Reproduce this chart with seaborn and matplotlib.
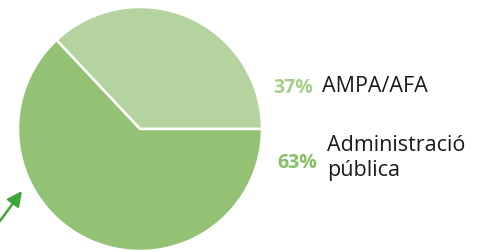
import matplotlib
matplotlib.use("Agg")
import matplotlib.pyplot as plt
import seaborn as sns

# Data
categories = ["AMPA/AFA", "Administració\npública"]
shares = [37, 63]
pct_labels = ["37%", "63%"]
slice_colors = ["#b5d39f", "#93c275"]
pct_colors = ["#a6cf8a", "#86c066"]

sns.set_theme(style="white")
plt.rcParams['font.family'] = ['Open Sans', 'DejaVu Sans']

W, H = 479, 253
fig = plt.figure(figsize=(W / 100, H / 100), dpi=100)
ax = fig.add_axes([0, 0, 1, 1])

# Pie in pixel-like coordinates
cx, cy, r = 140, H - 130, 122
wedges, _ = ax.pie(shares, colors=slice_colors, startangle=0, counterclock=True,
                   center=(cx, cy), radius=r,
                   wedgeprops=dict(edgecolor="white", linewidth=1.8))
ax.set_xlim(0, W)
ax.set_ylim(0, H)
ax.set_aspect("equal")
ax.axis("off")

# Labels: (pct x, pct baseline, name x, first name baseline)
label_pos = [(273, H - 93, 322, H - 92), (277, H - 168, 327, H - 151)]
for (px, py, tx, ty), pct, name, pc in zip(label_pos, pct_labels, categories, pct_colors):
    ax.text(px, py, pct, color=pc, fontsize=14, fontweight="bold",
            ha="left", va="baseline")
    for i, line in enumerate(name.split("\n")):
        ax.text(tx, ty - i * 25, line, color="#1a1a1a",
                fontsize=15.5, ha="left", va="baseline")

# Arrow pointing to the pie
ax.annotate("", xy=(22, H - 192), xytext=(0, H - 222),
            arrowprops=dict(arrowstyle="-|>", color="#3fa63a", lw=1.8,
                            mutation_scale=22, shrinkA=0, shrinkB=0))

fig.savefig("out.png", dpi=100)
